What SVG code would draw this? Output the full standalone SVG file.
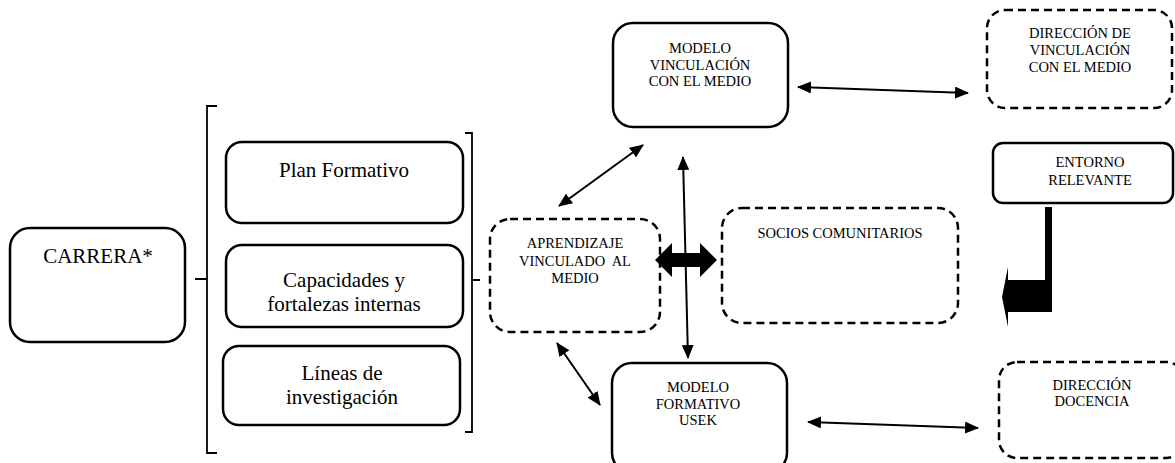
<svg xmlns="http://www.w3.org/2000/svg" width="1175" height="463" viewBox="0 0 1175 463">
<style>
  .box{fill:#fff;stroke:#000;stroke-width:2.5}
  .dash{fill:#fff;stroke:#000;stroke-width:2.5;stroke-dasharray:8 5}
  .br{fill:none;stroke:#000;stroke-width:1.8}
  text{font-family:Liberation Serif, Times New Roman, Times, serif;fill:#000;text-anchor:middle}
  .big{font-size:21px}
  .sm{font-size:14.5px}
  .ln{fill:none;stroke:#000;stroke-width:2;marker-end:url(#ah);marker-start:url(#ah)}
</style>
<defs>
  <marker id="ah" markerUnits="userSpaceOnUse" markerWidth="14" markerHeight="12" refX="13" refY="6" orient="auto-start-reverse">
    <path d="M0,0 L14,6 L0,12 z" fill="#000"/>
  </marker>
</defs>
<rect width="1175" height="463" fill="#fff"/>
<g id="carrera">
  <rect class="box" x="10" y="228" width="175" height="114" rx="20"/>
  <text class="big" font-family="Liberation Serif" x="98" y="263">CARRERA*</text>
</g>

<g id="bracket-left">
  <path class="br" d="M217,106 H207 V453 H217 M195,279 H207"/>
</g>

<g id="plan">
  <rect class="box" x="226" y="142" width="237" height="81" rx="16"/>
  <text class="big" font-family="Liberation Serif" x="344" y="177">Plan Formativo</text>
</g>
<g id="capacidades">
  <rect class="box" x="226" y="245" width="237" height="82" rx="16"/>
  <text class="big" font-family="Liberation Serif" x="344" y="287">Capacidades y</text>
  <text class="big" font-family="Liberation Serif" x="344" y="311">fortalezas internas</text>
</g>
<g id="lineas">
  <rect class="box" x="223" y="346" width="237" height="79" rx="16"/>
  <text class="big" font-family="Liberation Serif" x="342" y="380">Líneas de</text>
  <text class="big" font-family="Liberation Serif" x="342" y="404">investigación</text>
</g>

<g id="bracket-right">
  <path class="br" d="M465,133 H472 V432 H465 M472,280 H480"/>
</g>

<g id="aprendizaje">
  <rect class="dash" x="490" y="219" width="170" height="113" rx="20"/>
  <text class="sm" font-family="Liberation Serif" x="575" y="248">APRENDIZAJE</text>
  <text class="sm" font-family="Liberation Serif" x="575" y="266" xml:space="preserve">VINCULADO  AL</text>
  <text class="sm" font-family="Liberation Serif" x="575" y="283">MEDIO</text>
</g>

<g id="modelo-vinculacion">
  <rect class="box" x="613" y="23" width="175" height="104" rx="20"/>
  <text class="sm" font-family="Liberation Serif" x="700" y="53">MODELO</text>
  <text class="sm" font-family="Liberation Serif" x="700" y="70">VINCULACIÓN</text>
  <text class="sm" font-family="Liberation Serif" x="700" y="86">CON EL MEDIO</text>
</g>

<g id="direccion-vinculacion">
  <rect class="dash" x="987" y="10" width="185" height="98" rx="18"/>
  <text class="sm" font-family="Liberation Serif" x="1080" y="38">DIRECCIÓN DE</text>
  <text class="sm" font-family="Liberation Serif" x="1080" y="55">VINCULACIÓN</text>
  <text class="sm" font-family="Liberation Serif" x="1080" y="72">CON EL MEDIO</text>
</g>

<g id="entorno">
  <rect class="box" x="993" y="143" width="180" height="60" rx="10"/>
  <text class="sm" font-family="Liberation Serif" x="1090" y="167">ENTORNO</text>
  <text class="sm" font-family="Liberation Serif" x="1090" y="185">RELEVANTE</text>
</g>

<g id="socios">
  <rect class="dash" x="722" y="208" width="236" height="115" rx="20"/>
  <text class="sm" font-family="Liberation Serif" x="840" y="238">SOCIOS COMUNITARIOS</text>
</g>

<g id="modelo-formativo">
  <rect class="box" x="612" y="363" width="175" height="110" rx="20"/>
  <text class="sm" font-family="Liberation Serif" x="698" y="392">MODELO</text>
  <text class="sm" font-family="Liberation Serif" x="698" y="409">FORMATIVO</text>
  <text class="sm" font-family="Liberation Serif" x="698" y="425">USEK</text>
</g>

<g id="direccion-docencia">
  <rect class="dash" x="999" y="362" width="185" height="96" rx="18"/>
  <text class="sm" font-family="Liberation Serif" x="1092" y="390">DIRECCIÓN</text>
  <text class="sm" font-family="Liberation Serif" x="1092" y="406">DOCENCIA</text>
</g>

<g id="connectors">
  <line class="ln" x1="798" y1="87" x2="968" y2="93"/>
  <line class="ln" x1="808" y1="422" x2="978" y2="428"/>
  <line class="ln" x1="559" y1="206" x2="643" y2="145"/>
  <line class="ln" x1="557" y1="343" x2="600" y2="405"/>
  <line class="ln" x1="683" y1="157" x2="688" y2="358"/>
  <polygon fill="#000" points="655,260 672,243 672,253 700,253 700,243 717,260 700,277 700,267 672,267 672,277"/>
  <polygon fill="#000" points="1045,207 1052,207 1052,312 1008,312 1008,327 1002,297 1008,267 1008,280 1045,280"/>
</g>
</svg>
